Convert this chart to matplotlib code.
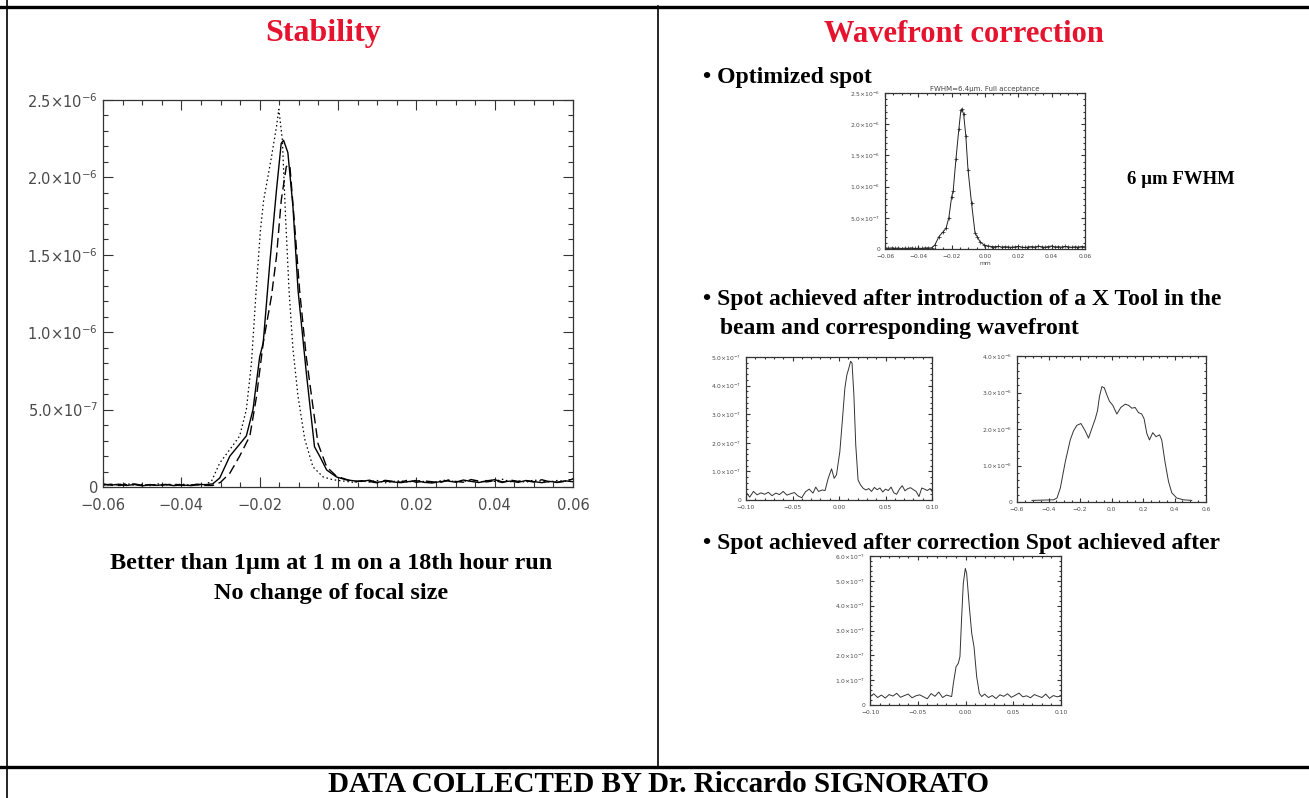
import numpy as np
import matplotlib.pyplot as plt
from matplotlib.lines import Line2D
from matplotlib.ticker import MultipleLocator, FuncFormatter

plt.rcParams['mathtext.default'] = 'regular'
plt.rcParams['mathtext.fontset'] = 'dejavusans'

W, H = 1309, 798
RED = '#e5132e'
SERIF = 'Liberation Serif'

# ---------------- profile data (stability run) ----------------
base_left_x = [-0.060, -0.058, -0.056, -0.054, -0.052, -0.050, -0.048,
               -0.046, -0.044, -0.042, -0.040, -0.038, -0.036, -0.034]
base_right_x = [0.004, 0.006, 0.008, 0.010, 0.012, 0.014, 0.016, 0.018,
                0.020, 0.022, 0.024, 0.026, 0.028, 0.030, 0.032, 0.034,
                0.036, 0.038, 0.040, 0.042, 0.044, 0.046, 0.048, 0.050,
                0.052, 0.054, 0.056, 0.058, 0.060]

# solid curve (in units of 1e-6)
solid_left = [0.020, 0.012, 0.018, 0.010, 0.016, 0.008, 0.014, 0.011,
              0.017, 0.009, 0.013, 0.010, 0.018, 0.015]
solid_px = [-0.0320, -0.0302, -0.0276, -0.0250, -0.0234, -0.0217, -0.0200,
            -0.0191, -0.0174, -0.0157, -0.0145, -0.0139, -0.0128, -0.0115,
            -0.0102, -0.0081, -0.0060, -0.0047, -0.0029, -0.0004, 0.0020]
solid_py = [0.020, 0.058, 0.200, 0.280, 0.330, 0.500, 0.840, 0.930, 1.450,
            1.920, 2.220, 2.240, 2.160, 1.810, 1.270, 0.740, 0.260, 0.200,
            0.110, 0.065, 0.047]
solid_right = [0.040, 0.036, 0.044, 0.030, 0.038, 0.033, 0.028, 0.035,
               0.041, 0.030, 0.026, 0.034, 0.039, 0.031, 0.045, 0.036,
               0.029, 0.040, 0.047, 0.033, 0.038, 0.030, 0.042, 0.035,
               0.028, 0.036, 0.031, 0.040, 0.034]

# dashed curve
dash_left = [0.012, 0.018, 0.010, 0.015, 0.020, 0.011, 0.016, 0.009,
             0.014, 0.019, 0.012, 0.008, 0.013, 0.010]
dash_px = [-0.0320, -0.0300, -0.0276, -0.0251, -0.0225, -0.0208, -0.0191,
           -0.0170, -0.0157, -0.0145, -0.0132, -0.0123, -0.0111, -0.0098,
           -0.0081, -0.0064, -0.0051, -0.0029, -0.0004, 0.0020]
dash_py = [0.010, 0.030, 0.090, 0.200, 0.330, 0.585, 0.930, 1.230, 1.490,
           1.850, 2.070, 2.080, 1.700, 1.270, 0.840, 0.520, 0.280, 0.130,
           0.070, 0.050]
dash_right = [0.032, 0.041, 0.035, 0.027, 0.043, 0.037, 0.031, 0.046,
              0.030, 0.039, 0.034, 0.028, 0.044, 0.036, 0.031, 0.048,
              0.038, 0.033, 0.041, 0.029, 0.045, 0.036, 0.040, 0.032,
              0.047, 0.034, 0.029, 0.037, 0.052]

# dotted curve
dot_left = [0.018, 0.010, 0.015, 0.022, 0.012, 0.017, 0.009, 0.020,
            0.014, 0.011, 0.019, 0.013, 0.016]
dot_px = [-0.0340, -0.0323, -0.0302, -0.0268, -0.0251, -0.0234, -0.0221,
          -0.0209, -0.0198, -0.0190, -0.0170, -0.0157, -0.0151, -0.0142,
          -0.0134, -0.0125, -0.0115, -0.0102, -0.0085, -0.0064, -0.0038,
          -0.0013]
dot_py = [0.015, 0.037, 0.155, 0.270, 0.330, 0.500, 0.800, 1.270, 1.660,
          1.850, 2.130, 2.330, 2.440, 2.240, 1.750, 1.270, 0.890, 0.585,
          0.310, 0.130, 0.065, 0.047]
dot_right = [0.030, 0.038, 0.033, 0.042, 0.027, 0.036, 0.040, 0.031,
             0.044, 0.035, 0.029, 0.039, 0.046, 0.032, 0.037, 0.041,
             0.030, 0.043, 0.036, 0.050, 0.034, 0.039, 0.031, 0.045,
             0.038, 0.033, 0.042, 0.036, 0.055]

# ---------------- spot after X tool (units 1e-7) ----------------
tool_x = [-0.100, -0.096, -0.092, -0.088, -0.084, -0.080, -0.076, -0.072,
          -0.068, -0.064, -0.060, -0.056, -0.052, -0.048, -0.044, -0.040,
          -0.036, -0.032, -0.028, -0.025, -0.022, -0.018, -0.015, -0.0116,
          -0.008, -0.0052, -0.0027, 0.0009, 0.0038, 0.0063, 0.0085, 0.0105,
          0.0125, 0.0140, 0.0160, 0.0180, 0.0205, 0.0231, 0.026, 0.029,
          0.032, 0.035, 0.038, 0.041, 0.044, 0.047, 0.050, 0.053, 0.056,
          0.059, 0.062, 0.065, 0.068, 0.071, 0.074, 0.077, 0.080, 0.083,
          0.086, 0.089, 0.092, 0.095, 0.098, 0.100]
tool_y = [0.28, 0.10, 0.30, 0.18, 0.25, 0.20, 0.27, 0.15, 0.24, 0.19,
          0.30, 0.17, 0.22, 0.26, 0.14, 0.08, 0.29, 0.38, 0.24, 0.45,
          0.30, 0.35, 0.33, 0.76, 1.09, 0.76, 0.88, 1.69, 2.86, 3.91,
          4.38, 4.60, 4.85, 4.79, 3.68, 1.93, 0.70, 0.53, 0.41, 0.35,
          0.40, 0.30, 0.44, 0.36, 0.42, 0.28, 0.38, 0.33, 0.45, 0.25,
          0.20, 0.38, 0.50, 0.32, 0.40, 0.43, 0.36, 0.30, 0.12, 0.42,
          0.38, 0.33, 0.40, 0.30]

# ---------------- corresponding wavefront (units 1e-6) ----------------
wave_x = [-0.505, -0.368, -0.346, -0.325, -0.294, -0.262, -0.241, -0.220,
          -0.194, -0.167, -0.146, -0.125, -0.103, -0.089, -0.076, -0.061,
          -0.046, -0.030, -0.013, 0.008, 0.034, 0.059, 0.087, 0.108, 0.129,
          0.150, 0.171, 0.192, 0.207, 0.224, 0.241, 0.262, 0.283, 0.305,
          0.319, 0.340, 0.362, 0.383, 0.414, 0.456, 0.509]
wave_y = [0.044, 0.060, 0.110, 0.380, 1.090, 1.700, 1.950, 2.100, 2.150,
          1.950, 1.750, 2.010, 2.280, 2.500, 2.900, 3.160, 3.130, 2.940,
          2.760, 2.650, 2.410, 2.590, 2.680, 2.650, 2.570, 2.590, 2.450,
          2.410, 2.280, 1.880, 1.700, 1.900, 1.790, 1.840, 1.700, 1.090,
          0.560, 0.250, 0.110, 0.060, 0.044]

# ---------------- spot after correction (units 1e-7) ----------------
corr_x = [-0.100, -0.096, -0.092, -0.088, -0.084, -0.080, -0.076, -0.072,
          -0.068, -0.064, -0.060, -0.056, -0.052, -0.048, -0.044, -0.040,
          -0.036, -0.032, -0.028, -0.024, -0.020, -0.0145, -0.0127, -0.0099,
          -0.0075, -0.0058, -0.0040, -0.0023, -0.0002, 0.0012, 0.0040,
          0.0065, 0.0089, 0.0117, 0.0145, 0.017, 0.020, 0.024, 0.028, 0.032,
          0.036, 0.040, 0.044, 0.048, 0.052, 0.056, 0.060, 0.064, 0.068,
          0.072, 0.076, 0.080, 0.084, 0.088, 0.092, 0.096, 0.100]
corr_y = [0.34, 0.45, 0.30, 0.40, 0.28, 0.42, 0.36, 0.47, 0.31, 0.38,
          0.44, 0.29, 0.37, 0.41, 0.33, 0.25, 0.46, 0.35, 0.52, 0.30,
          0.40, 0.34, 0.87, 1.54, 1.68, 1.95, 3.56, 4.90, 5.50, 5.30,
          3.96, 2.89, 2.35, 1.14, 0.47, 0.34, 0.44, 0.30, 0.38, 0.26,
          0.41, 0.35, 0.45, 0.31, 0.39, 0.48, 0.33, 0.37, 0.29, 0.42,
          0.36, 0.30, 0.44, 0.27, 0.38, 0.33, 0.36]

fig = plt.figure(figsize=(W / 100, H / 100), dpi=100)


def rect(l, t, r, b):
    return [l / W, 1 - b / H, (r - l) / W, (b - t) / H]


def sci_label(v, pos):
    if abs(v) < 1e-15:
        return '0'
    m, e = f'{v:.1e}'.split('e')
    return r'$%s{\times}10^{%d}$' % (m, int(e))


def dec_label(nd):
    return FuncFormatter(lambda v, p: f'{v:.{nd}f}'.replace('-', '\u2212'))


def idl_axes(box, xlim, ylim, xmaj, xmin, ymaj, ymin, fs, nd, ticklen):
    ax = fig.add_axes(rect(*box))
    ax.set_xlim(*xlim)
    ax.set_ylim(*ylim)
    ax.xaxis.set_major_locator(MultipleLocator(xmaj))
    ax.xaxis.set_minor_locator(MultipleLocator(xmin))
    ax.yaxis.set_major_locator(MultipleLocator(ymaj))
    ax.yaxis.set_minor_locator(MultipleLocator(ymin))
    ax.xaxis.set_major_formatter(dec_label(nd))
    ax.yaxis.set_major_formatter(FuncFormatter(sci_label))
    ax.tick_params(which='both', direction='in', top=True, right=True,
                   labelsize=fs, labelcolor='#4a4a4a', color='#333333',
                   width=0.8)
    ax.tick_params(which='major', length=ticklen)
    ax.tick_params(which='minor', length=ticklen * 0.5)
    ax.tick_params(axis='x', pad=ticklen * 1.1)
    for s in ax.spines.values():
        s.set_color('#333333')
        s.set_linewidth(0.9)
    return ax


# main stability plot
ax = idl_axes((103, 100, 573, 487), (-0.06, 0.06), (0, 2.5e-6),
              0.02, 0.005, 5e-7, 1e-7, 10.5, 2, 7)
e6 = 1e-6
sx = base_left_x + solid_px + base_right_x
sy = (np.array(solid_left + solid_py + solid_right)) * e6
ax.plot(sx, sy, color='black', lw=1.0)
dx = base_left_x + dash_px + base_right_x
dy = np.array(dash_left + dash_py + dash_right) * e6
ax.plot(dx, dy, color='black', lw=1.0, dashes=(7, 3.5))
ox = base_left_x[:13] + dot_px + base_right_x
oy = np.array(dot_left + dot_py + dot_right) * e6
ax.plot(ox, oy, color='black', lw=0.9, ls=(0, (1.2, 2.2)))

# optimized spot
ax1 = idl_axes((885, 93, 1085, 249), (-0.06, 0.06), (0, 2.5e-6),
               0.02, 0.005, 5e-7, 1e-7, 4.3, 2, 3)
ax1.plot(sx, sy, color='#222222', lw=0.7, marker='+', ms=3.5, mew=0.5)
ax1.set_title(u'FWHM=6.4\u03bcm. Full acceptance', fontsize=5,
              color='#444444', pad=1.5)
ax1.set_xlabel('mm', fontsize=4.3, color='#444444', labelpad=2)

# spot with X tool in the beam
ax2 = idl_axes((746, 357, 932, 500), (-0.1, 0.1), (0, 5e-7),
               0.05, 0.01, 1e-7, 2e-8, 4.3, 2, 3)
ax2.plot(tool_x, np.array(tool_y) * 1e-7, color='#333333', lw=0.7)

# wavefront
ax3 = idl_axes((1017, 356, 1206, 502), (-0.6, 0.6), (0, 4e-6),
               0.2, 0.05, 1e-6, 2e-7, 4.3, 1, 3)
ax3.plot(wave_x, np.array(wave_y) * e6, color='#333333', lw=0.7)

# corrected spot
ax4 = idl_axes((870, 556, 1061, 705), (-0.1, 0.1), (0, 6e-7),
               0.05, 0.01, 1e-7, 2e-8, 4.3, 2, 3)
ax4.plot(corr_x, np.array(corr_y) * 1e-7, color='#333333', lw=0.7)

# frame lines
def hline(y, x0, x1, lw):
    fig.add_artist(Line2D([x0 / W, x1 / W], [1 - y / H, 1 - y / H],
                          color='black', lw=lw, transform=fig.transFigure))


def vline(x, y0, y1, lw):
    fig.add_artist(Line2D([x / W, x / W], [1 - y0 / H, 1 - y1 / H],
                          color='black', lw=lw, transform=fig.transFigure))


hline(6.5, 0, W, 2.4)
hline(767, 0, W, 2.4)
vline(7, 0, H, 1.2)
vline(658, 6, 767, 1.2)


def label(x, y, s, size, color='black', ha='center', va='center'):
    fig.text(x / W, 1 - y / H, s, fontsize=size, color=color, ha=ha,
             va=va, family=SERIF, weight='bold')


label(323, 34, 'Stability', 23, RED)
label(964, 34, 'Wavefront correction', 22, RED)
label(331, 564, u'Better than 1\u00b5m at 1 m on a 18th hour run', 17.5)
label(331, 594, 'No change of focal size', 17.5)
label(703, 78, u'\u2022 Optimized spot', 17, ha='left')
label(1181, 180, u'6 \u00b5m FWHM', 13.5)
label(703, 300, u'\u2022 Spot achieved after introduction of a X Tool in the',
      17, ha='left')
label(720, 329, 'beam and corresponding wavefront', 17, ha='left')
label(703, 543, u'\u2022 Spot achieved after correction Spot achieved after',
      17, ha='left')
label(658, 792, 'DATA COLLECTED BY Dr. Riccardo SIGNORATO', 21,
      va='baseline')

fig.savefig('out.png', dpi=100)
